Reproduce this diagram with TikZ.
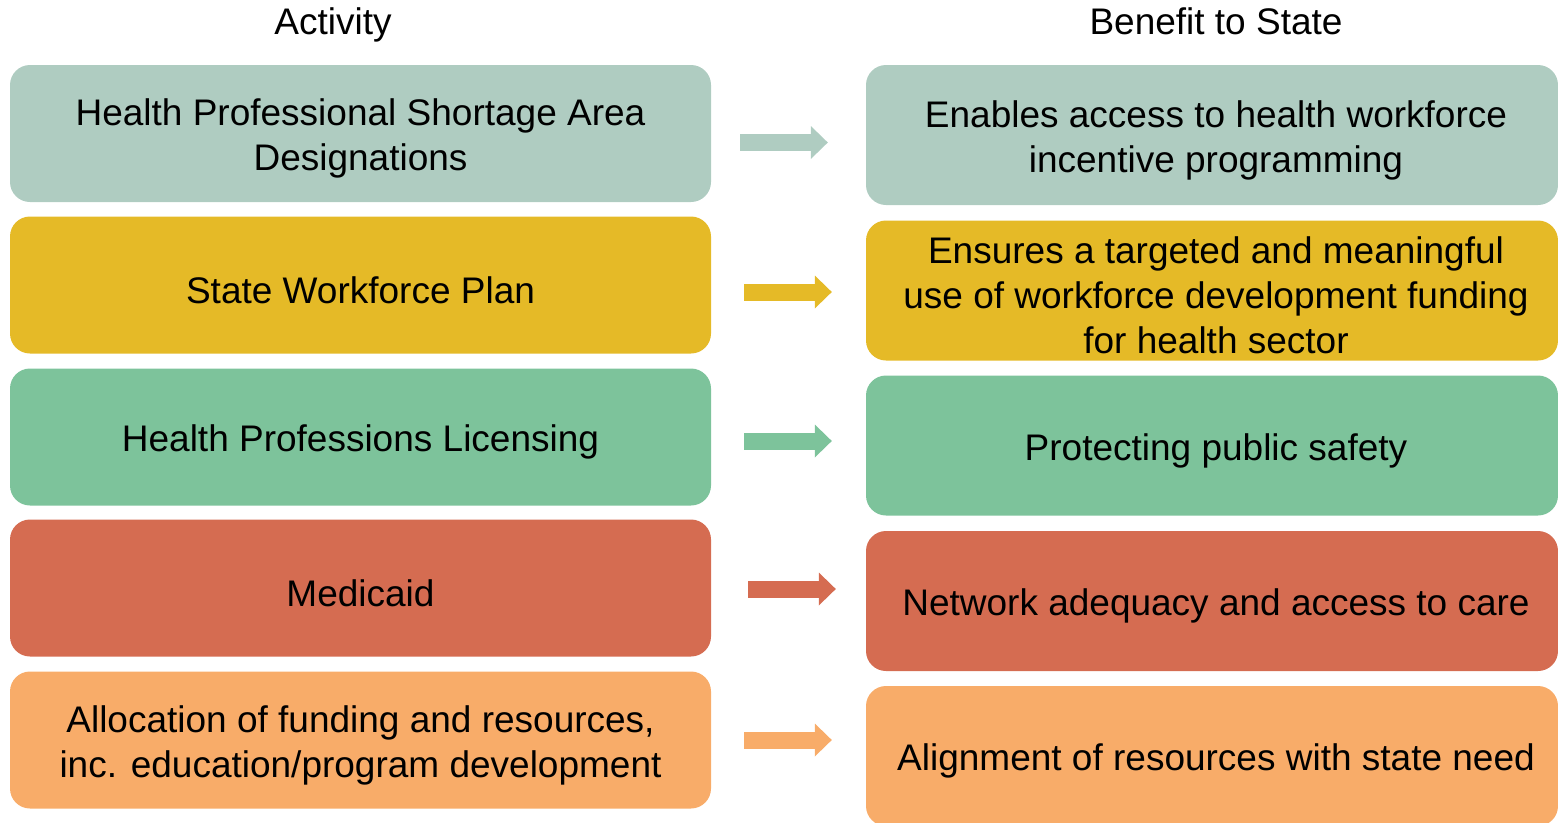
\documentclass[tikz,border=0pt]{standalone}
\usepackage{fontspec}
\setmainfont{Liberation Sans}
\usetikzlibrary{arrows.meta}
\definecolor{sage}{HTML}{AFCCC1}
\definecolor{mustard}{HTML}{E5BA27}
\definecolor{mint}{HTML}{7DC39B}
\definecolor{brick}{HTML}{D56C51}
\definecolor{peach}{HTML}{F8AC69}
\tikzset{%
  rowbox/.style   = {shape=rectangle, rounded corners=20pt, inner sep=0pt},%
  activity/.style = {rowbox, minimum width=701pt, minimum height=137pt},%
  benefit/.style  = {rowbox, minimum width=692pt, minimum height=140pt},%
  boxtext/.style  = {align=center, inner sep=0pt, yshift=-5pt,%
                     font=\fontsize{37}{45}\selectfont},%
  acttext/.style  = {label={[boxtext]center:{#1}}},%
  bentext/.style  = {label={[boxtext, xshift=4pt]center:{#1}}},%
  header/.style   = {anchor=base, font=\fontsize{37}{45}\selectfont},%
  blockarrow/.style = {line width=17pt,%
                     -{Triangle[length=17pt,width=33pt,line width=0pt]}}%
}
\begin{document}
\begin{tikzpicture}[x=1pt, y=-1pt]%
	\useasboundingbox (0,0) rectangle (1558,822);
	\clip (0,0) rectangle (1558,822);
	% column heads
	\node[header] (hact) at (333,34) {Activity};
	\node[header] (hben) at (1216,34) {Benefit to State};
	% activities
	\node[activity, fill=sage,    acttext={Health Professional Shortage Area\\Designations}] (act1) at (360.5,133.5) {};
	\node[activity, fill=mustard, acttext={State Workforce Plan}] (act2) at (360.5,285) {};
	\node[activity, fill=mint,    acttext={Health Professions Licensing}] (act3) at (360.5,437) {};
	\node[activity, fill=brick,   acttext={Medicaid}] (act4) at (360.5,588) {};
	\node[activity, fill=peach,   acttext={Allocation of funding and resources,\\inc. education/program development}] (act5) at (360.5,740) {};
	% benefits
	\node[benefit, fill=sage,    bentext={Enables access to health workforce\\incentive programming}] (ben1) at (1212,135) {};
	\node[benefit, fill=mustard, bentext={Ensures a targeted and meaningful\\use of workforce development funding\\for health sector}] (ben2) at (1212,290.5) {};
	\node[benefit, fill=mint,    bentext={Protecting public safety}] (ben3) at (1212,445.5) {};
	\node[benefit, fill=brick,   bentext={Network adequacy and access to care}] (ben4) at (1212,601) {};
	\node[benefit, fill=peach,   bentext={Alignment of resources with state need}] (ben5) at (1212,756) {};
	% arrows
	\draw[blockarrow, sage]    ([shift={(29,9)}]act1.east)  -- ([shift={(-38,7.5)}]ben1.west);
	\draw[blockarrow, mustard] ([shift={(33,7)}]act2.east)  -- ([shift={(-34,1.5)}]ben2.west);
	\draw[blockarrow, mint]    ([shift={(33,4)}]act3.east)  -- ([shift={(-34,-4.5)}]ben3.west);
	\draw[blockarrow, brick]   ([shift={(37,1)}]act4.east)  -- ([shift={(-30,-12)}]ben4.west);
	\draw[blockarrow, peach]   ([shift={(33,0)}]act5.east)  -- ([shift={(-34,-16)}]ben5.west);
\end{tikzpicture}
\end{document}
